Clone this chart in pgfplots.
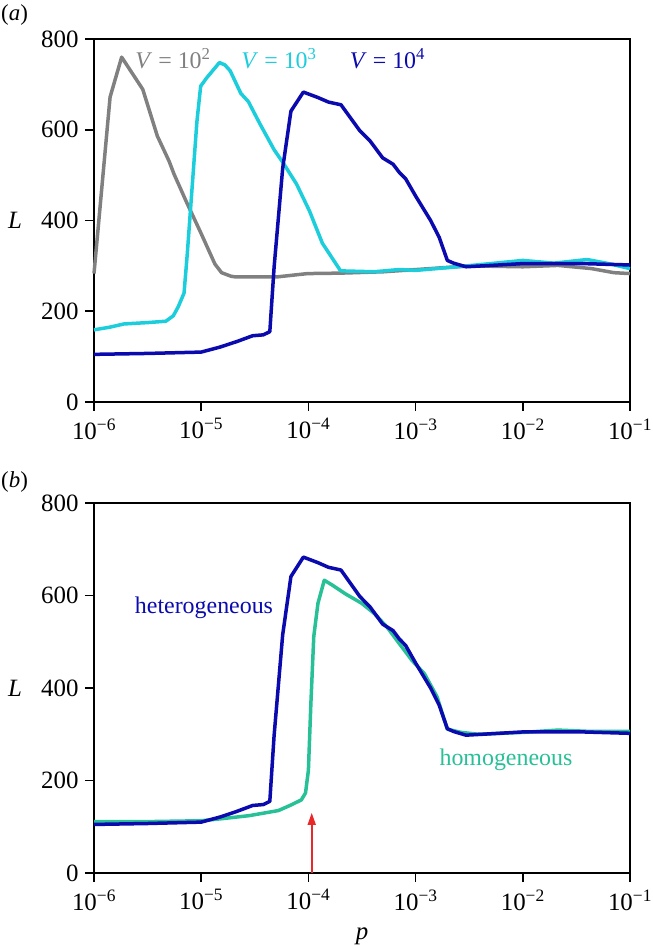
\documentclass[border=0pt]{standalone}
\usepackage{fontspec}
\setmainfont{Liberation Serif}
\usepackage{pgfplots}
\pgfplotsset{compat=1.18}
\usetikzlibrary{arrows.meta}
\definecolor{cgrey}{RGB}{128,128,128}
\definecolor{ccyan}{RGB}{28,205,220}
\definecolor{cblue}{RGB}{10,10,175}
\definecolor{cgreen}{RGB}{40,192,150}
\definecolor{cred}{RGB}{235,40,40}
\begin{document}
\begin{tikzpicture}
\useasboundingbox (0,0) rectangle (653bp,948bp);
\pgfplotsset{
  myax/.style={
    anchor=south west, scale only axis, width=536bp,
    xmin=-6, xmax=-1, ymin=0, ymax=800,
    xtick={-6,-5,-4,-3,-2,-1},
    xticklabels={10\textsuperscript{−6},10\textsuperscript{−5},10\textsuperscript{−4},10\textsuperscript{−3},10\textsuperscript{−2},10\textsuperscript{−1}},
    ytick={0,200,400,600,800},
    yticklabels={0,200,400,600,800},
    tick align=outside, xtick pos=bottom, ytick pos=left,
    major tick length=9bp,
    axis line style={line width=1.8bp},
    every tick/.style={line width=1.6bp, black},
    tick label style={font=\fontsize{25}{30}\selectfont},
    xticklabel style={yshift=-4bp},
    yticklabel style={xshift=-3bp},
    every axis plot/.append style={line width=3.5bp, line join=round, no marks},
    clip=false,
  }
}
% ---------- panel (a)
\begin{axis}[myax, at={(94bp,546bp)}, height=363bp]
\addplot[cgrey] coordinates {
(-6.000,283) (-5.850,672) (-5.742,760) (-5.545,689) (-5.409,586) (-5.300,531)
(-5.253,502) (-5.136,440) (-5.000,371) (-4.872,304) (-4.810,285) (-4.720,277)
(-4.689,276) (-4.280,276) (-4.008,283) (-3.700,284) (-3.300,287) (-2.800,295)
(-2.500,300) (-2.000,298) (-1.670,301) (-1.360,294) (-1.150,285) (-1.000,283)
};
\addplot[ccyan] coordinates {
(-6.000,159) (-5.850,165) (-5.720,172) (-5.500,175) (-5.330,178) (-5.260,190)
(-5.214,210) (-5.160,240) (-5.130,326) (-5.085,472) (-5.040,618) (-5.005,696)
(-4.950,714) (-4.830,748) (-4.780,743) (-4.730,730) (-4.630,680) (-4.560,662)
(-4.450,612) (-4.320,556) (-4.230,525) (-4.110,480) (-3.990,421) (-3.870,350)
(-3.800,325) (-3.700,289) (-3.385,287) (-3.150,292) (-3.000,290) (-2.610,298)
(-2.300,305) (-2.000,312) (-1.710,306) (-1.400,314) (-1.200,305) (-1.000,294)
};
\addplot[cblue] coordinates {
(-6.000,105) (-5.500,107) (-5.000,110) (-4.825,121) (-4.670,133) (-4.520,146)
(-4.420,148) (-4.360,155) (-4.320,297) (-4.240,515) (-4.163,641) (-4.047,683)
(-3.911,671) (-3.813,661) (-3.696,655) (-3.521,598) (-3.424,575) (-3.307,538)
(-3.210,524) (-3.152,506) (-3.093,492) (-3.000,454) (-2.860,400) (-2.780,363)
(-2.704,312) (-2.646,306) (-2.530,298) (-2.374,300) (-2.000,305) (-1.440,305)
(-1.000,302)
};
\node[anchor=base, text=cgrey, font=\fontsize{24}{28}\selectfont] at (axis cs:-5.263,736) {\textit{V} = 10\textsuperscript{2}};
\node[anchor=base, text=ccyan, font=\fontsize{24}{28}\selectfont] at (axis cs:-4.274,736) {\textit{V} = 10\textsuperscript{3}};
\node[anchor=base, text=cblue, font=\fontsize{24}{28}\selectfont] at (axis cs:-3.262,736) {\textit{V} = 10\textsuperscript{4}};
\end{axis}
% ---------- panel (b)
\begin{axis}[myax, at={(94bp,75bp)}, height=370bp]
\addplot[cgreen] coordinates {
(-6.000,111) (-5.525,111) (-5.000,113) (-4.825,117) (-4.553,124) (-4.280,135)
(-4.163,147) (-4.066,158) (-4.027,173) (-4.000,222) (-3.977,366) (-3.950,511)
(-3.911,583) (-3.852,633) (-3.774,622) (-3.658,604) (-3.502,583) (-3.385,561)
(-3.268,532) (-3.152,496) (-3.035,460) (-2.918,431) (-2.800,381) (-2.704,311)
(-2.576,304) (-2.412,300) (-2.000,304) (-1.673,309) (-1.360,306) (-1.000,306)
};
\addplot[cblue] coordinates {
(-6.000,105) (-5.500,107) (-5.000,110) (-4.825,121) (-4.670,133) (-4.520,146)
(-4.420,148) (-4.360,155) (-4.320,297) (-4.240,515) (-4.163,641) (-4.047,683)
(-3.911,671) (-3.813,661) (-3.696,655) (-3.521,598) (-3.424,575) (-3.307,538)
(-3.210,524) (-3.152,506) (-3.093,492) (-3.000,454) (-2.860,400) (-2.780,363)
(-2.704,312) (-2.646,306) (-2.530,298) (-2.374,300) (-2.000,305) (-1.440,305)
(-1.000,302)
};
\draw[cred, line width=1.6bp, -{Triangle[length=12bp,width=8bp]}] (axis cs:-3.969,0) -- (axis cs:-3.969,130);
\node[anchor=base, text=cblue, font=\fontsize{24}{28}\selectfont] at (axis cs:-4.974,562) {heterogeneous};
\node[anchor=base, text=cgreen, font=\fontsize{24}{28}\selectfont] at (axis cs:-2.157,233) {homogeneous};
\end{axis}
% ---------- outer labels
\node[anchor=base west, font=\fontsize{23}{26}\selectfont, inner sep=0pt] at (1bp,927bp) {(\textit{a})};
\node[anchor=base west, font=\fontsize{23}{26}\selectfont, inner sep=0pt] at (1bp,460bp) {(\textit{b})};
\node[font=\fontsize{25}{28}\selectfont] at (15bp,728bp) {\textit{L}};
\node[font=\fontsize{25}{28}\selectfont] at (15bp,260bp) {\textit{L}};
\node[anchor=base, font=\fontsize{25}{28}\selectfont] at (362bp,9bp) {\textit{p}};
\end{tikzpicture}
\end{document}
